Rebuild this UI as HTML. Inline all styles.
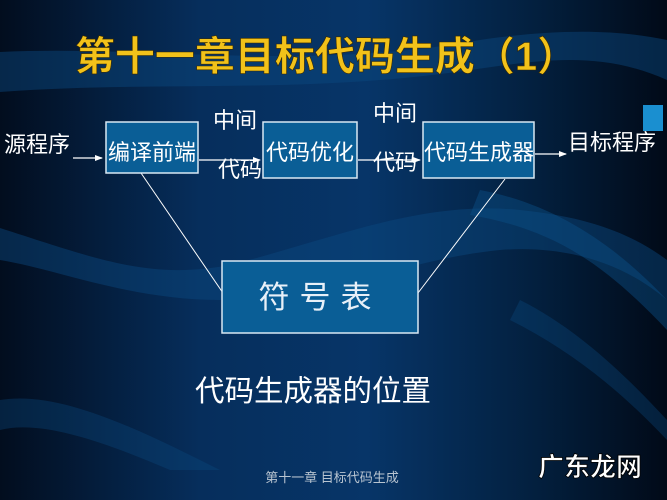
<!DOCTYPE html>
<html><head><meta charset="utf-8"><style>
html,body{margin:0;padding:0;background:#031a33;}
svg{display:block}
text{font-family:"Liberation Sans","Noto Sans CJK SC",sans-serif;}
</style></head><body>
<svg width="667" height="500" viewBox="0 0 667 500" xmlns="http://www.w3.org/2000/svg">
<defs>
<linearGradient id="bg" x1="0" y1="0" x2="1" y2="0">
<stop offset="0" stop-color="#020d1e"/>
<stop offset="0.3" stop-color="#062e5c"/>
<stop offset="0.55" stop-color="#073568"/>
<stop offset="0.8" stop-color="#03203f"/>
<stop offset="1" stop-color="#010a18"/>
</linearGradient>
<marker id="ar" markerWidth="8" markerHeight="8" refX="7" refY="4" orient="auto" markerUnits="userSpaceOnUse">
<path d="M0,1 L8,4 L0,7 Z" fill="#fff"/></marker>
</defs>
<rect width="667" height="500" fill="url(#bg)"/>
<path d="M0,52 C150,45 300,72 480,40 C560,28 620,30 667,40 L667,80 C600,50 540,60 470,70 C300,95 160,80 0,92 Z" fill="#0b4a80" opacity="0.45"/>
<path d="M0,228 C100,260 150,280 230,265 C330,240 420,200 520,210 C600,218 640,240 667,260 L667,300 C620,260 560,245 500,250 C400,260 330,300 220,300 C130,300 60,270 0,260 Z" fill="#0b4a80" opacity="0.45"/>
<path d="M0,400 C60,390 140,430 220,470 L170,470 C100,440 40,420 0,430 Z" fill="#0b4a80" opacity="0.35"/>
<path d="M480,190 C560,205 620,250 667,300 L667,330 C610,270 560,230 470,215 Z" fill="#0c4f88" opacity="0.45"/>
<path d="M520,300 C580,330 630,380 667,420 L667,440 C620,390 570,350 510,320 Z" fill="#0b4a80" opacity="0.35"/>
<rect x="643" y="105" width="20" height="26" fill="#1a8fd0"/>
<text x="326" y="70" text-anchor="middle" font-size="40" font-weight="bold" fill="#f2c21a" stroke="#3a2a00" stroke-width="0.6">第十一章目标代码生成（1）</text>
<line x1="73" y1="158" x2="102" y2="158" stroke="#fff" stroke-width="1.3" marker-end="url(#ar)"/>
<line x1="199" y1="160" x2="260" y2="160" stroke="#fff" stroke-width="1.3" marker-end="url(#ar)"/>
<line x1="358" y1="160" x2="420" y2="160" stroke="#fff" stroke-width="1.3" marker-end="url(#ar)"/>
<line x1="535" y1="154" x2="566" y2="154" stroke="#fff" stroke-width="1.3" marker-end="url(#ar)"/>
<line x1="141" y1="173" x2="223" y2="293" stroke="#fff" stroke-width="1"/>
<line x1="505" y1="179" x2="418" y2="293" stroke="#fff" stroke-width="1"/>
<g fill="#0a5e96" stroke="#d8e8f4" stroke-width="1.5">
<rect x="106" y="122" width="92" height="51"/>
<rect x="263" y="122" width="94" height="56"/>
<rect x="423" y="122" width="111" height="56"/>
<rect x="222" y="261" width="196" height="72"/>
</g>
<g fill="#fff" font-size="22">
<text x="4" y="152">源程序</text>
<text x="108" y="160">编译前端</text>
<text x="266" y="160">代码优化</text>
<text x="424" y="160">代码生成器</text>
<text x="568" y="150">目标程序</text>
<text x="213" y="128">中间</text>
<text x="218" y="177">代码</text>
<text x="373" y="121">中间</text>
<text x="373" y="170">代码</text>
</g>
<text x="320" y="308" text-anchor="middle" font-size="31" fill="#e8f0f8" letter-spacing="10">符号表</text>
<text x="195" y="401" font-size="29.5" fill="#fff">代码生成器的位置</text>
<text x="332" y="482" text-anchor="middle" font-size="13" fill="#b8c4d0" font-family="'Liberation Serif','Noto Serif CJK SC',serif">第十一章 目标代码生成</text>
<text x="538" y="476" font-size="26" font-weight="bold" fill="#fff" stroke="#000" stroke-width="0.8">广东龙网</text>
</svg>
</body></html>
